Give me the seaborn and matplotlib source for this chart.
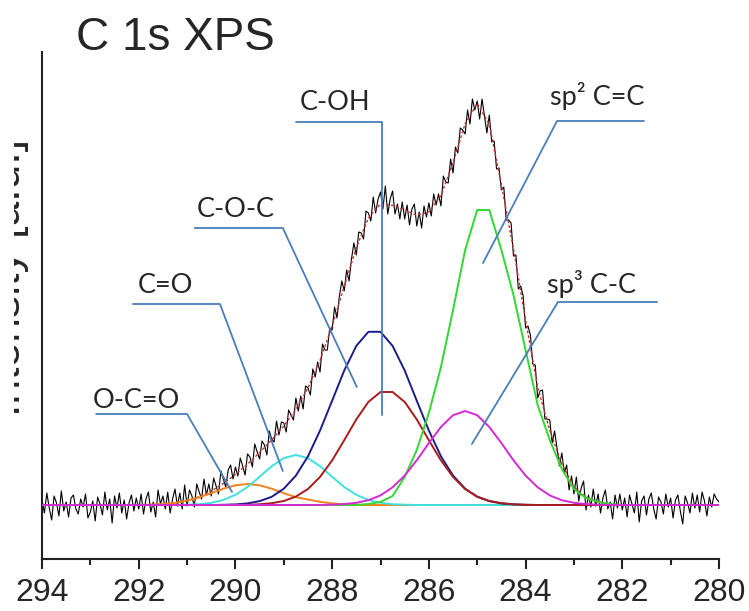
import numpy as np
import pandas as pd
import matplotlib
matplotlib.use("Agg")
import matplotlib.pyplot as plt
import seaborn as sns
from matplotlib.ticker import MultipleLocator
from matplotlib.transforms import Bbox

# binding energy grids (eV), 294 -> 280
energy_fit = np.round(294.0 - 0.25 * np.arange(57), 2)
energy_raw = np.round(294.0 - 0.05 * np.arange(281), 2)

# measured spectrum (a.u.), one row = 0.5 eV
raw_intensity = [
    0.05, -0.08, 0.12, -0.03, -0.15, 0.09, 0.02, -0.11, 0.14, -0.06,
    0.03, -0.12, 0.07, 0.10, -0.04, -0.09, 0.06, -0.02, 0.11, -0.13,
    -0.07, 0.04, -0.16, 0.08, 0.01, -0.10, 0.13, -0.05, 0.06, -0.18,
    0.09, -0.03, 0.12, -0.08, 0.05, -0.14, 0.02, 0.10, -0.06, 0.07,
    -0.04, 0.11, -0.09, 0.06, 0.13, -0.07, 0.03, -0.12, 0.15, 0.01,
    0.09, -0.04, 0.13, -0.08, 0.06, 0.16, -0.01, 0.12, -0.04, 0.20,
    -0.01, 0.15, 0.09, -0.02, 0.21, 0.13, 0.06, 0.26, 0.10, 0.21,
    0.09, 0.27, 0.19, 0.11, 0.34, 0.26, 0.18, 0.35, 0.40, 0.26,
    0.38, 0.29, 0.47, 0.39, 0.30, 0.51, 0.48, 0.38, 0.61, 0.53,
    0.46, 0.64, 0.60, 0.50, 0.74, 0.66, 0.63, 0.84, 0.70, 0.83,
    0.82, 0.73, 0.95, 0.90, 0.85, 1.07, 0.94, 1.09, 0.96, 1.19,
    1.17, 1.10, 1.36, 1.28, 1.43, 1.33, 1.61, 1.55, 1.55, 1.77,
    1.75, 1.98, 1.87, 2.09, 2.24, 2.14, 2.35, 2.24, 2.46, 2.62,
    2.50, 2.73, 2.72, 2.66, 2.94, 2.92, 2.84, 3.08, 2.92, 3.06,
    3.13, 2.96, 3.19, 2.91, 3.06, 3.14, 2.91, 3.01, 2.86, 3.03,
    2.86, 3.00, 2.80, 2.96, 3.01, 2.79, 2.93, 2.77, 2.99, 2.88,
    3.02, 2.89, 3.11, 3.00, 3.11, 2.99, 3.29, 3.23, 3.22, 3.46,
    3.32, 3.58, 3.52, 3.77, 3.75, 3.71, 3.95, 3.81, 4.06, 3.95,
    4.04, 3.86, 4.06, 3.89, 3.72, 3.90, 3.63, 3.64, 3.36, 3.37,
    3.15, 3.18, 2.85, 2.85, 2.82, 2.49, 2.50, 2.16, 2.19, 2.09,
    1.77, 1.79, 1.70, 1.41, 1.40, 1.07, 1.14, 1.15, 0.86, 0.86,
    0.85, 0.62, 0.74, 0.57, 0.39, 0.52, 0.32, 0.40, 0.15, 0.29,
    0.11, 0.28, 0.04, 0.17, 0.24, -0.05, 0.10, -0.02, 0.16, -0.01,
    0.11, -0.08, 0.07, 0.15, -0.04, 0.03, -0.14, 0.10, -0.03, 0.11,
    -0.05, 0.07, -0.12, 0.10, 0.01, -0.08, 0.13, -0.17, 0.04, 0.09,
    -0.10, 0.06, 0.12, -0.04, -0.14, 0.08, 0.03, -0.09, 0.11, -0.02,
    0.07, -0.13, 0.05, 0.10, -0.06, -0.19, 0.09, 0.02, -0.08, 0.12,
    -0.03, 0.10, -0.07, 0.13, 0.04, -0.11, 0.08, -0.02, 0.11, 0.06,
    0.03,
]

# fitted components on the 0.25 eV grid, one row = 2 eV
occo = [
    0, 0, 0, 0, 0, 0, 0, 0,
    0.001, 0.004, 0.009, 0.021, 0.043, 0.076, 0.118, 0.163,
    0.197, 0.210, 0.197, 0.163, 0.118, 0.078, 0.055, 0.032,
    0.016, 0.007, 0.002, 0, 0, 0, 0, 0,
    0, 0, 0, 0, 0, 0, 0, 0,
    0, 0, 0, 0, 0, 0, 0, 0,
    0, 0, 0, 0, 0, 0, 0, 0,
    0,
]
co = [
    0, 0, 0, 0, 0, 0, 0, 0,
    0, 0, 0, 0, 0.003, 0.008, 0.022, 0.050,
    0.102, 0.180, 0.282, 0.388, 0.469, 0.500, 0.469, 0.388,
    0.282, 0.180, 0.102, 0.050, 0.022, 0.008, 0.003, 0,
    0, 0, 0, 0, 0, 0, 0, 0,
    0, 0, 0, 0, 0, 0, 0, 0,
    0, 0, 0, 0, 0, 0, 0, 0,
    0,
]
coc = [
    0, 0, 0, 0, 0, 0, 0, 0,
    0, 0, 0, 0, 0, 0, 0, 0.002,
    0.006, 0.016, 0.039, 0.082, 0.163, 0.294, 0.487, 0.745,
    1.043, 1.345, 1.591, 1.732, 1.732, 1.591, 1.345, 1.043,
    0.745, 0.487, 0.294, 0.163, 0.082, 0.039, 0.016, 0.006,
    0.002, 0, 0, 0, 0, 0, 0, 0,
    0, 0, 0, 0, 0, 0, 0, 0,
    0,
]
coh = [
    0, 0, 0, 0, 0, 0, 0, 0,
    0, 0, 0, 0, 0, 0, 0, 0,
    0, 0.002, 0.007, 0.018, 0.040, 0.084, 0.160, 0.281,
    0.446, 0.648, 0.856, 1.031, 1.130, 1.130, 1.031, 0.856,
    0.648, 0.446, 0.281, 0.160, 0.084, 0.040, 0.018, 0.007,
    0.002, 0, 0, 0, 0, 0, 0, 0,
    0, 0, 0, 0, 0, 0, 0, 0,
    0,
]
sp2 = [
    0, 0, 0, 0, 0, 0, 0, 0,
    0, 0, 0, 0, 0, 0, 0, 0,
    0, 0, 0, 0, 0, 0, 0, 0,
    0, 0, 0, 0.01, 0.03, 0.09, 0.28, 0.55,
    0.92, 1.38, 1.95, 2.55, 2.95, 2.95, 2.55, 2.10,
    1.55, 1.00, 0.65, 0.36, 0.16, 0.07, 0.03, 0.01,
    0, 0, 0, 0, 0, 0, 0, 0,
    0,
]
sp3 = [
    0, 0, 0, 0, 0, 0, 0, 0,
    0, 0, 0, 0, 0, 0, 0, 0,
    0, 0, 0, 0, 0, 0, 0, 0.001,
    0.003, 0.009, 0.022, 0.048, 0.096, 0.177, 0.294, 0.447,
    0.619, 0.780, 0.898, 0.940, 0.898, 0.780, 0.619, 0.447,
    0.294, 0.177, 0.096, 0.048, 0.022, 0.009, 0.003, 0.001,
    0, 0, 0, 0, 0, 0, 0, 0,
    0,
]

comp_names = ["O-C=O", "C=O", "C-O-C", "C-OH", "sp2 C=C", "sp3 C-C"]
comp_values = [occo, co, coc, coh, sp2, sp3]
comp_colors = ["#f0821e", "#40e0e0", "#1c1c8c", "#a81c1c", "#30d830", "#d42ad4"]

fit_df = pd.DataFrame({"energy": energy_fit})
for name, vals in zip(comp_names, comp_values):
    fit_df[name] = vals
fit_df["envelope"] = fit_df[comp_names].sum(axis=1)

raw_df = pd.DataFrame({"energy": energy_raw, "intensity": raw_intensity})

# label text, text anchor (eV, a.u.) and leader line points
labels = ["C-OH", "C-O-C", "C=O", "O-C=O", "sp\u00b2 C=C", "sp\u00b3 C-C"]
label_xy = [(288.67, 3.95), (290.79, 2.88), (292.01, 2.12), (292.95, 0.97),
            (283.50, 4.00), (283.56, 2.12)]
leader_x = [[288.75, 286.97, 286.97], [290.84, 289.02, 287.49],
            [292.12, 290.32, 289.02], [292.88, 291.00, 290.07],
            [281.55, 283.35, 284.88], [281.28, 283.33, 285.11]]
leader_y = [[3.83, 3.83, 0.90], [2.77, 2.77, 1.18], [2.01, 2.01, 0.34],
            [0.91, 0.91, 0.13], [3.84, 3.84, 2.42], [2.03, 2.03, 0.61]]

sns.set_theme(style="white")
plt.rcParams["font.family"] = ["Liberation Sans", "DejaVu Sans"]

fig = plt.figure(figsize=(7.49, 6.11), dpi=100)
ax = fig.add_axes([42 / 749, 1 - 559 / 611, 677 / 749, 507 / 611])

sns.lineplot(data=raw_df, x="energy", y="intensity", ax=ax, color="black",
             lw=0.8, estimator=None, zorder=2)
sns.lineplot(data=fit_df, x="energy", y="envelope", ax=ax, color="#c83030",
             lw=1.0, ls=(0, (2, 1.5)), estimator=None, zorder=3)
for name, col in zip(comp_names, comp_colors):
    sns.lineplot(data=fit_df, x="energy", y=name, ax=ax, color=col, lw=1.4,
                 estimator=None, zorder=4)

for lab, (tx, ty), lx, ly in zip(labels, label_xy, leader_x, leader_y):
    ax.plot(lx, ly, color="#4a7ebb", lw=1.3, zorder=6)
    ax.text(tx, ty, lab, fontsize=19.5, family=["Lato", "DejaVu Sans"],
            ha="left", va="baseline", zorder=7)

ax.set_xlim(294, 280)
ax.set_ylim(-0.54, 4.53)
ax.set_yticks([])
ax.set_xlabel("")
ax.set_ylabel("")
ax.xaxis.set_major_locator(MultipleLocator(2))
ax.xaxis.set_minor_locator(MultipleLocator(1))
ax.tick_params(axis="x", which="major", bottom=True, direction="out",
               length=7, width=1.5, color="#222222", pad=7, labelsize=23)
ax.tick_params(axis="x", which="minor", bottom=True, direction="out",
               length=4, width=1.5, color="#222222")
for side in ["top", "right"]:
    ax.spines[side].set_visible(False)
for side in ["left", "bottom"]:
    ax.spines[side].set_color("#222222")
    ax.spines[side].set_linewidth(1.5)

fig.text(76 / 749, 1 - 50 / 611, "C 1s XPS", fontsize=33, ha="left",
         va="baseline")
# axis title, mostly hidden behind the left margin as in the source figure
ylab = fig.text(20 / 749, 1 - 277 / 611, "Intensity [a.u.]", fontsize=32,
                rotation=90, rotation_mode="anchor", ha="center",
                va="baseline")
ylab.set_clip_box(Bbox.from_extents(14, 0, 60, 611))
ylab.set_clip_on(True)

fig.savefig("out.png", dpi=100)
